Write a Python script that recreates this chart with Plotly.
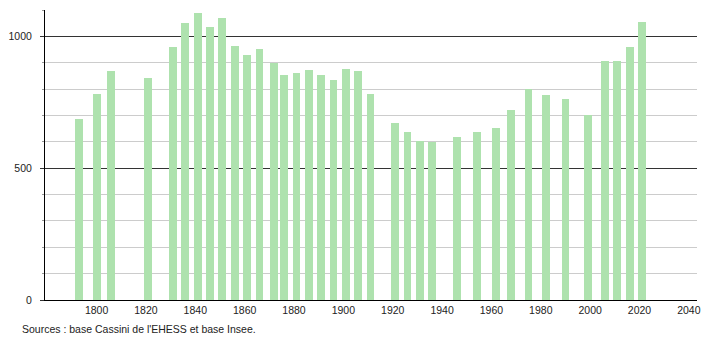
import plotly.graph_objects as go

years = [1793, 1800, 1806, 1821, 1831, 1836, 1841, 1846, 1851, 1856, 1861, 1866,
         1872, 1876, 1881, 1886, 1891, 1896, 1901, 1906, 1911, 1921, 1926, 1931,
         1936, 1946, 1954, 1962, 1968, 1975, 1982, 1990, 1999, 2006, 2011, 2016, 2021]
population = [688, 781, 870, 843, 958, 1051, 1087, 1037, 1071, 965, 930, 952,
              899, 855, 862, 874, 854, 833, 878, 870, 780, 670, 636, 604,
              599, 620, 636, 651, 720, 802, 779, 763, 703, 908, 905, 959, 1053]
x_ticks = [1800, 1820, 1840, 1860, 1880, 1900, 1920, 1940, 1960, 1980, 2000, 2020, 2040]
y_ticks = [0, 500, 1000]
source_text = "Sources : base Cassini de l'EHESS et base Insee."

bar_color = "rgb(174,226,174)"
font_family = "Liberation Sans, Arial, sans-serif"

fig = go.Figure()
fig.add_trace(go.Bar(
    x=years, y=population, width=3.2,
    marker=dict(color=bar_color, line=dict(width=0)),
    hoverinfo="x+y",
))

fig.update_layout(
    width=710, height=340,
    margin=dict(l=43, r=9, t=10, b=40),
    paper_bgcolor="white", plot_bgcolor="white",
    showlegend=False,
    font=dict(family=font_family, size=10.5, color="#222222"),
    bargap=0,
)
fig.update_xaxes(
    range=[1779.1, 2043.3],
    tickvals=x_ticks, ticktext=[str(v) for v in x_ticks],
    showgrid=False, zeroline=False,
    showline=True, linecolor="black", linewidth=1,
    ticks="", ticklabelstandoff=0,
)
fig.update_yaxes(
    range=[0, 1100],
    tickvals=y_ticks, ticktext=[str(v) for v in y_ticks],
    showgrid=True, gridcolor="#333333", gridwidth=1,
    zeroline=False,
    showline=True, linecolor="black", linewidth=1,
    ticks="outside", ticklen=4, tickcolor="#333333",
    ticklabelstandoff=6,
    minor=dict(dtick=100, showgrid=True, gridcolor="#cccccc", gridwidth=1,
               ticks="outside", ticklen=2, tickcolor="#999999"),
)
fig.add_annotation(
    text=source_text, xref="paper", yref="paper",
    x=-43 / 658, y=-29 / 290, xanchor="left", yanchor="middle",
    showarrow=False, font=dict(family=font_family, size=10.5, color="#222222"),
    xshift=18,
)

fig.write_html("out.html")
